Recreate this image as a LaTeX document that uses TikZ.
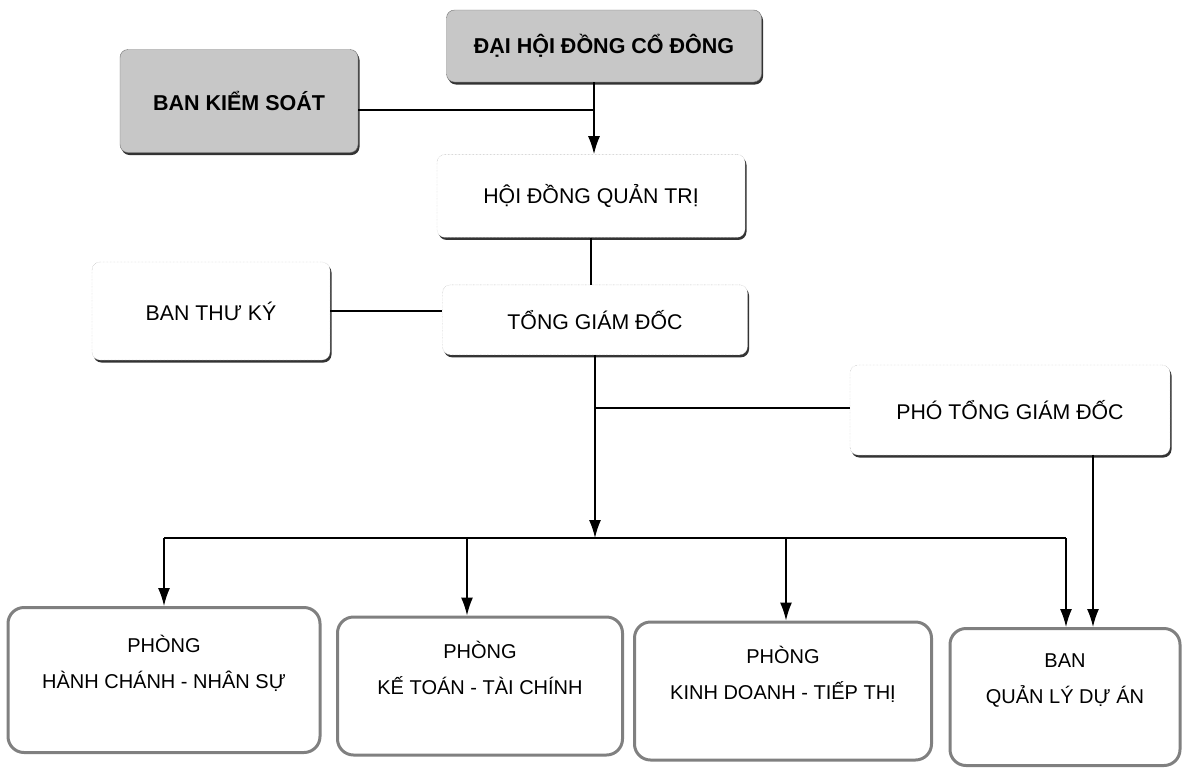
\documentclass[tikz,border=0pt]{standalone}
\usepackage{fontspec}
\setmainfont{Liberation Sans}
\usepackage{tikz}
\usetikzlibrary{arrows.meta,positioning,shadows}
\definecolor{grey}{rgb}{.78,.78,.78}
\definecolor{rim}{rgb}{.5,.5,.5}
\newcommand{\fsz}[1]{\fontsize{#1}{36}\selectfont}

\begin{document}
\begin{tikzpicture}[x=1pt,y=1pt,% pixel units, so the numbers below
			every node/.style={
				align=center,  		% use this so that the "\\" for line break works
				font=\fsz{20}
			},
			topbox/.style={rectangle,rounded corners=8pt,draw=black!55,fill=grey,
				font=\bfseries\fsz{21.5},
				drop shadow={shadow xshift=1.5pt,shadow yshift=-2.5pt,fill=black!80,opacity=1}},
			midbox/.style={rectangle,rounded corners=8pt,draw=black!35,densely dotted,fill=white,
				font=\fsz{21.3},
				drop shadow={shadow xshift=1.5pt,shadow yshift=-2.5pt,fill=black!80,opacity=1}},
			unitbox/.style={rectangle,rounded corners=16pt,draw=rim,line width=3pt,fill=white},
			every edge/.style={draw,line width=1.5pt},
			>={Latex[length=18pt,width=12pt]}
		]
		\useasboundingbox (0,0) rectangle (1184,-769);
		% top of the chart
		\node[topbox,minimum width=315pt,minimum height=72pt](R1) at (604,-46){ĐẠI HỘI ĐỒNG CỔ ĐÔNG};
		\node[topbox,minimum width=238pt,minimum height=103pt](R2) at (239,-101){BAN KIỂM SOÁT};
		\node[midbox,minimum width=308pt,minimum height=83pt](R3)[below=72pt of R1,xshift=-13pt]{HỘI ĐỒNG QUẢN TRỊ};
		\node[midbox,minimum width=305pt,minimum height=70pt](R5)[below=47pt of R3,xshift=4pt]{TỔNG GIÁM ĐỐC};
		\node[midbox,minimum width=238pt,minimum height=98pt](R4) at (211,-311){BAN THƯ KÝ};
		\node[midbox,minimum width=320pt,minimum height=90pt](R6) at (1010,-410){PHÓ TỔNG GIÁM ĐỐC};
		% departments
		\node[unitbox,minimum width=312pt,minimum height=145pt](R7) at (164,-680){PHÒNG\\HÀNH CHÁNH - NHÂN SỰ\\~};
		\node[unitbox,minimum width=285pt,minimum height=138pt](R8) at (480,-686){PHÒNG\\KẾ TOÁN - TÀI CHÍNH\\~};
		\node[unitbox,minimum width=297pt,minimum height=138pt](R9) at (783,-691){PHÒNG\\KINH DOANH - TIẾP THỊ\\~};
		\node[unitbox,minimum width=230pt,minimum height=137pt](R10) at (1065,-697){BAN\\QUẢN LÝ DỰ ÁN\\~};
		\coordinate (J1) at (594,-110);
		\coordinate (J2) at (596,-408);
		\coordinate (J3) at (596,-538);
		\coordinate (J4) at (1066,-538);
		\coordinate (J5) at (467,-538);
		\coordinate (J6) at (786,-538);
		\coordinate (J7) at (1093,-538);
		\path
		(R2.east |- J1)edge []	(J1)
		(R3.south)edge []	(R3.south |- R5.north)
		(R4.east)edge []	(R4.east -| R5.west)
		(J2)edge []	(R6.west |- J2)
		(R7.north |- J3)edge []	(J4)
		;
		\path[->]
		(R1.south -| J1)edge []	(R3.north -| J1)
		(R5.south)edge []	(R5.south |- J3)
		(R7.north |- J3)edge []	(R7.north)
		(J5)edge []	(J5 |- R8.north)
		(J6)edge []	(J6 |- R9.north)
		(J4)edge []	(J4 |- R10.north)
		(R6.south -| J7)edge []	(R10.north -| J7)
		;
	\end{tikzpicture}
\end{document}
